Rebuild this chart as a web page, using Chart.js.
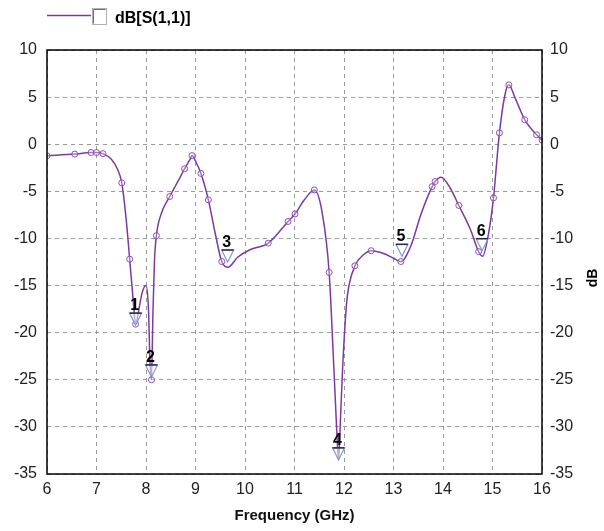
<!DOCTYPE html>
<html>
<head>
<meta charset="utf-8">
<script src="https://cdn.jsdelivr.net/npm/chart.js@4"></script>
<style>
  body { margin: 0; background: #fff; }
  #wrap { width: 604px; height: 531px; position: relative; }
</style>
</head>
<body>
<div id="wrap"><canvas id="s11Chart"></canvas></div>
<script>
// traced S11 curve (GHz, dB)
const traceFreq = [6.00, 6.56, 6.89, 7.00, 7.13, 7.30, 7.42, 7.51, 7.60, 7.67, 7.74, 7.79, 7.84, 7.92, 8.00, 8.05, 8.08, 8.11, 8.14, 8.17, 8.21, 8.30, 8.48, 8.65, 8.78, 8.90, 8.93, 9.00, 9.11, 9.26, 9.40, 9.53, 9.66, 9.85, 10.10, 10.47, 10.87, 11.01, 11.20, 11.40, 11.55, 11.70, 11.78, 11.85, 11.89, 11.93, 11.97, 12.05, 12.10, 12.22, 12.40, 12.55, 12.80, 13.00, 13.15, 13.35, 13.55, 13.78, 13.84, 13.96, 14.15, 14.32, 14.55, 14.72, 14.80, 14.92, 15.02, 15.14, 15.25, 15.33, 15.45, 15.65, 15.89, 16.00];
const traceDb = [-1.23, -1.05, -0.88, -0.88, -1.0, -1.6, -2.6, -4.1, -8.0, -12.2, -16.5, -19.1, -18.0, -15.8, -15.0, -17.5, -23.0, -25.0, -18.0, -12.5, -9.7, -7.5, -5.55, -3.9, -2.6, -1.5, -1.2, -1.8, -3.1, -5.9, -9.5, -12.45, -13.05, -12.0, -11.2, -10.5, -8.2, -7.4, -5.9, -4.85, -7.0, -13.6, -22.0, -30.0, -33.5, -29.0, -24.0, -17.0, -15.0, -12.9, -11.7, -11.3, -11.6, -12.1, -12.45, -10.8, -7.5, -4.5, -3.96, -3.5, -4.7, -6.5, -9.0, -11.4, -11.9, -9.5, -5.7, 1.2, 5.2, 6.3, 5.0, 2.6, 1.0, 0.45];

// open symbols on the trace
const symFreq = [6.00, 6.56, 6.89, 7.00, 7.13, 7.51, 7.67, 7.79, 8.11, 8.21, 8.48, 8.78, 8.93, 9.11, 9.26, 9.53, 10.47, 10.87, 11.01, 11.40, 11.70, 12.22, 12.55, 13.15, 13.78, 13.84, 14.32, 14.72, 15.02, 15.14, 15.33, 15.65, 15.89, 16.00];
const symDb = [-1.23, -1.05, -0.88, -0.88, -1.0, -4.1, -12.2, -19.1, -25.0, -9.7, -5.55, -2.6, -1.2, -3.1, -5.9, -12.45, -10.5, -8.2, -7.4, -4.85, -13.6, -12.9, -11.3, -12.45, -4.5, -3.96, -6.5, -11.4, -5.7, 1.2, 6.3, 2.6, 1.0, 0.45];

// numbered markers
const markerLabels = ["1", "2", "3", "4", "5", "6"];
const markerFreq = [7.79, 8.11, 9.65, 11.89, 13.17, 14.79];
const markerDb = [-19.2, -24.7, -12.5, -33.5, -11.9, -11.3];

const xTicks = [6, 7, 8, 9, 10, 11, 12, 13, 14, 15, 16];
const yTicks = [10, 5, 0, -5, -10, -15, -20, -25, -30, -35];

const seriesName = "dB[S(1,1)]";
const lineColor = "#7d3a9e";
const sans = "'Liberation Sans', Arial, sans-serif";
const tickFont = { family: sans, size: 16 };

const frameAndText = {
    id: "frameAndText",
    afterDraw(chart) {
        const ctx = chart.ctx;
        const a = chart.chartArea;
        ctx.save();
        // plot frame
        ctx.strokeStyle = "#000";
        ctx.lineWidth = 1.5;
        ctx.strokeRect(a.left, a.top, a.right - a.left, a.bottom - a.top);

        // legend
        ctx.strokeStyle = lineColor;
        ctx.lineWidth = 1.5;
        ctx.beginPath();
        ctx.moveTo(47, 15.5);
        ctx.lineTo(91, 15.5);
        ctx.stroke();
        ctx.fillStyle = "#fff";
        ctx.fillRect(92, 8, 14, 16);
        ctx.strokeStyle = "#b0b0b0";
        ctx.lineWidth = 1;
        ctx.strokeRect(92.5, 8.5, 14, 16);
        ctx.strokeStyle = "#707070";
        ctx.beginPath();
        ctx.moveTo(93.5, 23.5);
        ctx.lineTo(93.5, 9.5);
        ctx.lineTo(105.5, 9.5);
        ctx.stroke();
        ctx.fillStyle = "#000";
        ctx.font = "bold 16px " + sans;
        ctx.textBaseline = "middle";
        ctx.textAlign = "left";
        ctx.fillText(seriesName, 115, 19);

        // right axis title
        ctx.font = "bold 14px " + sans;
        ctx.translate(593, 278);
        ctx.rotate(-Math.PI / 2);
        ctx.textAlign = "center";
        ctx.fillText("dB", 0, 0);
        ctx.restore();
    },
    afterDatasetsDraw(chart) {
        const ctx = chart.ctx;
        const xs = chart.scales.x;
        const ys = chart.scales.y;
        ctx.save();
        markerLabels.forEach((lab, i) => {
            const px = xs.getPixelForValue(markerFreq[i]);
            const py = ys.getPixelForValue(markerDb[i]);
            ctx.beginPath();
            ctx.moveTo(px, py);
            ctx.lineTo(px - 6, py - 12);
            ctx.lineTo(px + 6, py - 12);
            ctx.closePath();
            ctx.fillStyle = "rgba(255,255,255,0.55)";
            ctx.fill();
            ctx.strokeStyle = "#7f9cc8";
            ctx.lineWidth = 1.2;
            ctx.stroke();
            ctx.beginPath();
            ctx.moveTo(px - 6, py - 12);
            ctx.lineTo(px + 6, py - 12);
            ctx.strokeStyle = "#1e2a4a";
            ctx.lineWidth = 1.5;
            ctx.stroke();
            ctx.fillStyle = "#000";
            ctx.font = "bold 16px " + sans;
            ctx.textAlign = "center";
            ctx.textBaseline = "alphabetic";
            ctx.fillText(lab, px - 1, py - 15);
        });
        ctx.restore();
    }
};

const ctx = document.getElementById("s11Chart").getContext("2d");
new Chart(ctx, {
    type: "line",
    data: {
        datasets: [{
            label: seriesName,
            data: traceFreq.map((f, i) => ({ x: f, y: traceDb[i] })),
            borderColor: lineColor,
            borderWidth: 1.5,
            pointRadius: 0,
            fill: false,
            cubicInterpolationMode: "monotone",
            yAxisID: "y",
            order: 2
        }, {
            label: "symbols",
            data: symFreq.map((f, i) => ({ x: f, y: symDb[i] })),
            showLine: false,
            pointRadius: 3,
            pointBorderWidth: 1,
            pointBorderColor: "#8e4db0",
            pointBackgroundColor: "rgba(255,255,255,0.3)",
            yAxisID: "y",
            order: 1
        }]
    },
    options: {
        responsive: true,
        maintainAspectRatio: false,
        animation: false,
        layout: { padding: { top: 50, left: 0, right: 0, bottom: 0 } },
        plugins: {
            legend: { display: false },
            tooltip: { enabled: false }
        },
        scales: {
            x: {
                type: "linear",
                min: 6,
                max: 16,
                afterBuildTicks: s => { s.ticks = xTicks.map(v => ({ value: v })); },
                afterFit: s => { s.height = 57; },
                ticks: { font: tickFont, color: "#222", padding: 6, maxRotation: 0 },
                grid: { color: "#9a9a9a", drawTicks: false, lineWidth: 1 },
                border: { display: false, dash: [4, 4] },
                title: {
                    display: true,
                    text: "Frequency (GHz)",
                    font: { family: sans, size: 15, weight: "bold" },
                    color: "#111",
                    padding: { top: 0, bottom: 6 }
                }
            },
            y: {
                type: "linear",
                position: "left",
                min: -35,
                max: 10,
                afterBuildTicks: s => { s.ticks = yTicks.map(v => ({ value: v })); },
                afterFit: s => { s.width = 47; },
                ticks: { font: tickFont, color: "#222", padding: 10 },
                grid: { color: "#9a9a9a", drawTicks: false, lineWidth: 1 },
                border: { display: false, dash: [4, 4] }
            },
            y2: {
                type: "linear",
                position: "right",
                min: -35,
                max: 10,
                afterBuildTicks: s => { s.ticks = yTicks.map(v => ({ value: v })); },
                afterFit: s => { s.width = 62; },
                ticks: { font: tickFont, color: "#222", padding: 8 },
                grid: { display: false, drawTicks: false },
                border: { display: false }
            }
        }
    },
    plugins: [frameAndText]
});
</script>
</body>
</html>
